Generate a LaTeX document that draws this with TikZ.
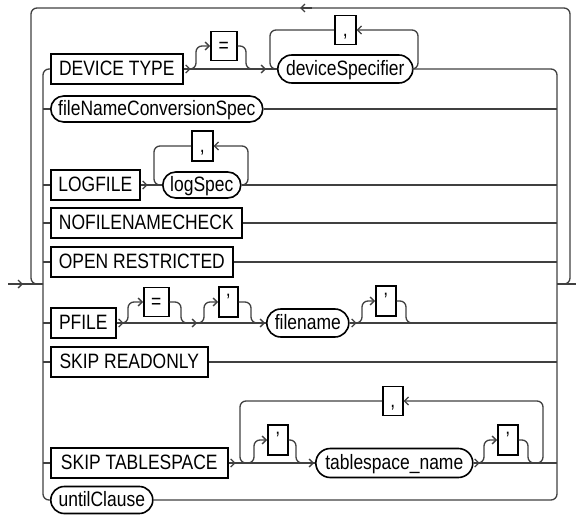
\documentclass[tikz,border=0pt]{standalone}
\usepackage{fontspec}
\newfontfamily\rr[FakeStretch=0.84]{Liberation Sans}
\usetikzlibrary{arrows.meta,shapes.misc}
\begin{document}
\begin{tikzpicture}[x=1pt,y=-1pt,
  >={Straight Barb[length=4pt,width=8pt]},
  ln/.style={line width=1.3pt, draw=black!75},
  rc/.style={ln, rounded corners=6pt},
  kw/.style={draw=black, line width=1.6pt, fill=white, rectangle,
    minimum height=30pt, inner sep=0pt, anchor=west,
    text height=15pt, text depth=2pt,
    font=\rr\fontsize{20.8}{24}\selectfont},
  nt/.style={kw, rounded rectangle, minimum height=27pt}]
\useasboundingbox (0,0) rectangle (576,516);

% ---------- nodes ----------
\node[kw, minimum width=132pt] (dt) at (50,69) {DEVICE TYPE};
\node[kw, minimum width=26pt, minimum height=29pt] (eq1) at (210,46) {=};
\node[nt, minimum width=135pt, minimum height=28pt] (ds) at (277,69) {deviceSpecifier};
\node[kw, minimum width=21pt, minimum height=29pt] (cm1) at (334,30) {,};
\node[nt, minimum width=212pt, minimum height=26pt] (fn) at (50,109) {fileNameConversionSpec};
\node[kw, minimum width=89pt] (lf) at (50,185) {LOGFILE};
\node[nt, minimum width=78pt, minimum height=26pt] (ls) at (162,185) {logSpec};
\node[kw, minimum width=21pt, minimum height=30pt] (cm2) at (191,146) {,};
\node[kw, minimum width=191pt] (nf) at (50,223) {NOFILENAMECHECK};
\node[kw, minimum width=182pt] (ors) at (50,262) {OPEN RESTRICTED};
\node[kw, minimum width=65pt] (pf) at (50,323) {PFILE};
\node[kw, minimum width=25pt, minimum height=29pt] (eq2) at (143,302) {=};
\node[kw, minimum width=19pt] (q1) at (218,302) {’};
\node[nt, minimum width=82pt, minimum height=28pt] (fname) at (266,323) {filename};
\node[kw, minimum width=20pt] (q2) at (375,301) {’};
\node[kw, minimum width=157pt] (sr) at (50,362) {SKIP READONLY};
\node[kw, minimum width=177pt] (st) at (50,463) {SKIP TABLESPACE};
\node[kw, minimum width=20pt] (q3) at (267,440) {’};
\node[nt, minimum width=157pt, minimum height=29pt] (tn) at (315,463) {tablespace\_name};
\node[kw, minimum width=20pt] (q4) at (497,440) {’};
\node[kw, minimum width=20pt, minimum height=29pt] (cm3) at (382,401) {,};
\node[nt, minimum width=102pt, minimum height=27pt] (un) at (50,500) {untilClause};

% ---------- junctions ----------
\coordinate (in0) at (8,284);
\coordinate (jL) at (43,284);
\coordinate (jR) at (557,284);
\coordinate (out0) at (576,284);

% entry, exit, outer loop
\draw[ln] (in0) -- (jL);
\draw[ln,->] (in0) -- (23,284);
\draw[ln] (jR) -- (out0);
\draw[rc] (jR) -- (570,284) -- (570,8) -- (31,8) -- (31,284) -- (jL);
\draw[ln,->] (312,8) -- (300,8);

% main verticals
\draw[rc] (dt.west) -- (43,69) -- (43,500) -- (un.west);
\draw[rc] (ds.east) -- (557,69) -- (557,500) -- (un.east);
\foreach \n in {fn,lf,nf,ors,pf,sr,st}{\draw[ln] (\n.west) -- ++(-7,0);}
\foreach \n in {fn,ls,nf,ors,fname,sr,tn}{\draw[ln] (\n.east) -- (\n.east -| jR);}

% DEVICE TYPE
\draw[ln] (dt.east) -- (ds.west);
\draw[ln,->] (dt.east) -- ++(7,0);
\draw[rc,->] (188,69) -- (196,69) -- (196,46) -- (eq1.west);
\draw[rc] (eq1.east) -- (246,46) -- (246,69) -- (256,69);
\draw[ln,->] (255,69) -- (266,69);
\draw[rc,->] (ds.east) -- (418,69) -- (418,30) -- (cm1.east);
\draw[rc] (cm1.west) -- (270,30) -- (270,69) -- (ds.west);

% LOGFILE
\draw[ln] (lf.east) -- (ls.west);
\draw[ln,->] (lf.east) -- ++(7,0);
\draw[rc,->] (ls.east) -- (248,185) -- (248,146) -- (cm2.east);
\draw[rc] (cm2.west) -- (154,146) -- (154,185) -- (ls.west);

% PFILE
\draw[ln] (pf.east) -- (fname.west);
\draw[ln,->] (pf.east) -- ++(7,0);
\draw[rc,->] (121,323) -- (128,323) -- (128,302) -- (eq2.west);
\draw[rc] (eq2.east) -- (181,302) -- (181,323) -- (189,323);
\draw[ln,->] (188,323) -- (197,323);
\draw[rc,->] (197,323) -- (204,323) -- (204,302) -- (q1.west);
\draw[rc] (q1.east) -- (251,302) -- (251,323) -- (258,323);
\draw[ln,->] (256,323) -- (265,323);
\draw[ln,->] (fname.east) -- ++(7,0);
\draw[rc,->] (354,323) -- (362,323) -- (362,301) -- (q2.west);
\draw[rc] (q2.east) -- (406,301) -- (406,323) -- (414,323);

% SKIP TABLESPACE
\draw[ln] (st.east) -- (tn.west);
\draw[ln,->] (st.east) -- ++(7,0);
\draw[rc] (cm3.west) -- (240,401) -- (240,463) -- (247,463);
\draw[rc,->] (536,463) -- (543,463) -- (543,401) -- (cm3.east);
\draw[rc,->] (247,463) -- (254,463) -- (254,440) -- (q3.west);
\draw[rc] (q3.east) -- (296,440) -- (296,463) -- (304,463);
\draw[ln,->] (303,463) -- (314,463);
\draw[ln,->] (tn.east) -- ++(6,0);
\draw[rc,->] (477,463) -- (484,463) -- (484,440) -- (q4.west);
\draw[rc] (q4.east) -- (528,440) -- (528,463) -- (536,463);
\end{tikzpicture}
\end{document}
